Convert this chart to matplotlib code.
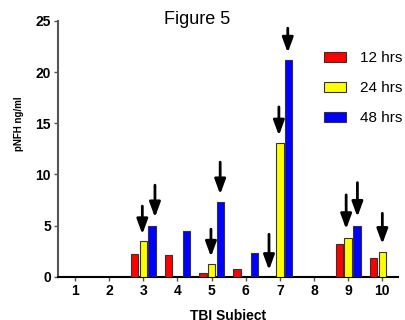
import numpy as np
import matplotlib
matplotlib.use('Agg')
import matplotlib.pyplot as plt
from matplotlib.patches import Patch

plt.rcParams['font.family'] = ['Liberation Sans', 'DejaVu Sans']

# data
subjects = [1, 2, 3, 4, 5, 6, 7, 8, 9, 10]
nan = np.nan
hrs12 = [nan, nan, 2.2, 2.1, 0.4, 0.8, nan, nan, 3.2, 1.85]
hrs24 = [nan, nan, 3.5, nan, 1.25, nan, 13.1, nan, 3.75, 2.45]
hrs48 = [nan, nan, 4.95, 4.45, 7.3, 2.3, 21.2, nan, 4.95, nan]
labels = ['12 hrs', '24 hrs', '48 hrs']
colors = ['#ff0000', '#ffff00', '#0000ff']

# arrows: (x, tail, tip) in data units
arrows = [
    (2.97, 6.9, 4.15),
    (3.34, 8.95, 5.8),
    (4.98, 4.65, 1.95),
    (5.25, 11.2, 8.05),
    (6.68, 4.15, 0.65),
    (6.97, 16.6, 13.8),
    (7.23, 24.3, 21.9),
    (8.94, 8.0, 4.65),
    (9.27, 9.2, 5.85),
    (10.0, 6.2, 3.2),
]

fig = plt.figure(figsize=(4.06, 3.2), dpi=100)
ax = fig.add_axes([58 / 406, 1 - 276.7 / 320, (397.7 - 58) / 406, (276.7 - 21) / 320])

x = np.array(subjects, dtype=float)
w = 0.22
off = 0.258
for i, vals in enumerate([hrs12, hrs24, hrs48]):
    ax.bar(x + (i - 1) * off, vals, width=w, color=colors[i],
           edgecolor='#333333', linewidth=0.8, zorder=3)

for ax_x, tail, tip in arrows:
    ax.annotate('', xy=(ax_x, tip), xytext=(ax_x, tail),
                arrowprops=dict(arrowstyle='-|>,head_width=0.33,head_length=0.9',
                                lw=2.0, color='black', shrinkA=0, shrinkB=0),
                zorder=4)

ax.set_xlim(0.5, 10.45)
ax.set_ylim(0, 25)
ax.set_xticks(subjects)
ax.set_yticks([0, 5, 10, 15, 20, 25])
for s in ['top', 'right']:
    ax.spines[s].set_visible(False)
ax.spines['left'].set_color('#555555')
ax.spines['left'].set_linewidth(1.5)
ax.spines['bottom'].set_color('black')
ax.spines['bottom'].set_linewidth(1.5)
ax.tick_params(axis='both', direction='out', length=3, width=1, color='#555555',
               labelsize=10, pad=2)
for t in ax.get_xticklabels() + ax.get_yticklabels():
    t.set_fontweight('bold')

ax.set_ylabel('pNFH ng/ml', fontsize=7, fontweight='bold')
ax.yaxis.set_label_coords(-0.1, 0.6)
ax.set_xlabel('TBI Subject', fontsize=10, fontweight='bold')
ax.xaxis.set_label_coords(0.5, -0.125)

fig.text(197 / 406, 1 - 20 / 320, 'Figure 5', fontsize=13, ha='center', va='center')

handles = [Patch(facecolor=c, edgecolor='#333333', linewidth=0.8) for c in colors]
ax.legend(handles, labels, loc='upper left', bbox_to_anchor=(324 / 406, 1 - 51 / 320),
          bbox_transform=fig.transFigure, frameon=False, fontsize=11,
          handlelength=1.45, handleheight=0.65, handletextpad=0.9,
          labelspacing=1.05, borderpad=0, borderaxespad=0)

fig.savefig('out.png', dpi=100)
